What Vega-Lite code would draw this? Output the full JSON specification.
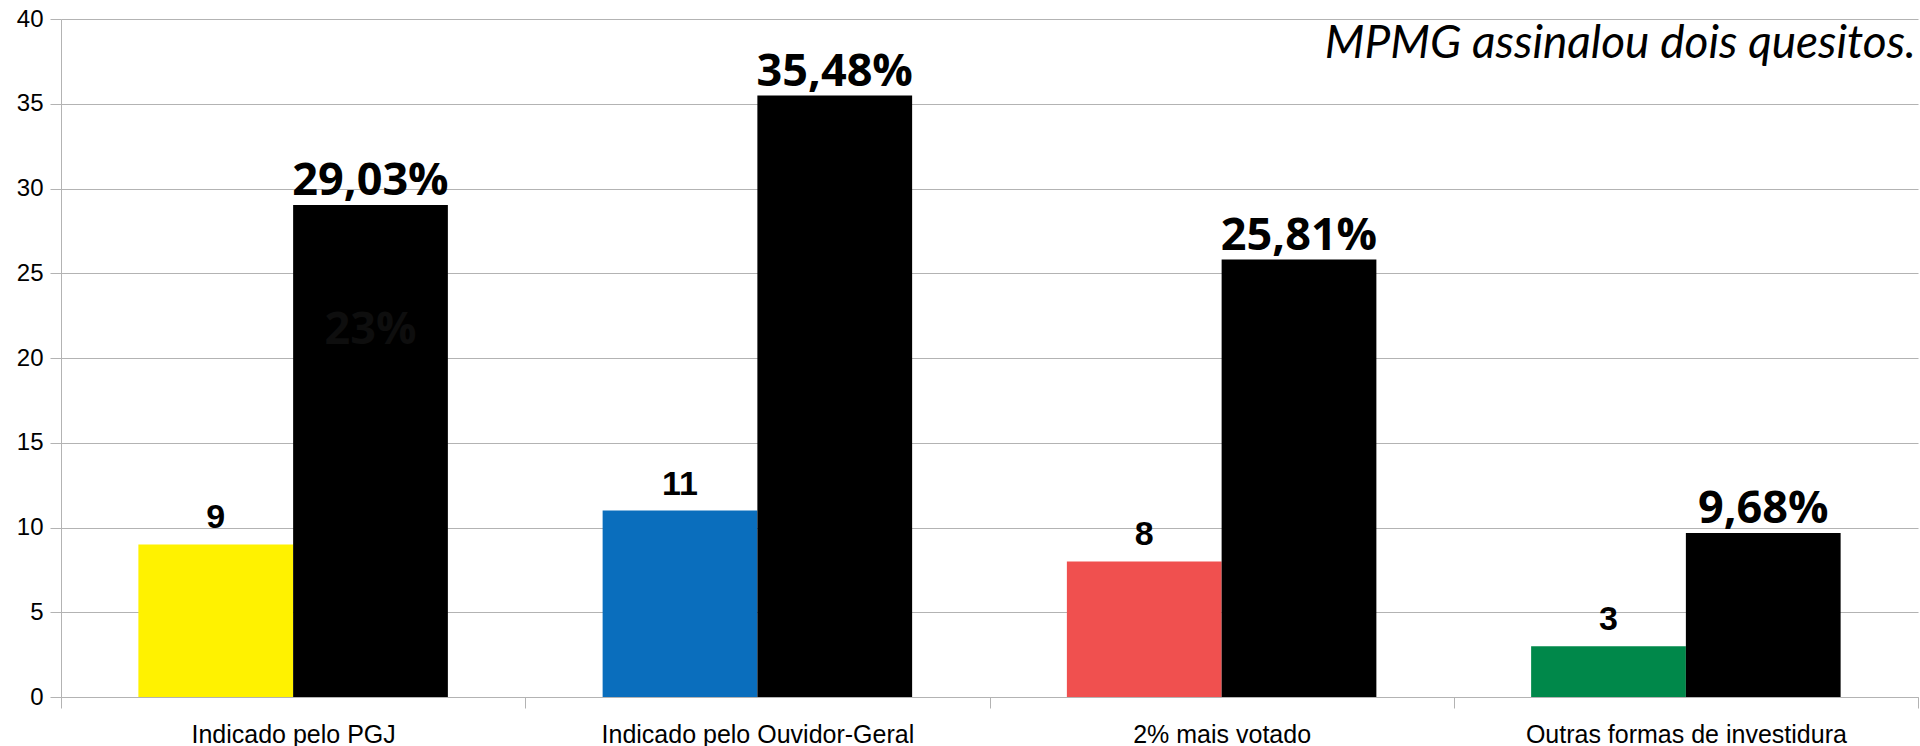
{
  "$schema": "https://vega.github.io/schema/vega-lite/v6.json",
  "autosize": {"type": "none"},
  "padding": {"left": 61, "top": 19, "right": 2, "bottom": 49},
  "width": 1857,
  "height": 678,
  "background": "#ffffff",
  "config": {
    "view": {"stroke": null},
    "font": "Liberation Sans"
  },
  "datasets": {
    "barras": [
      {"categoria": "Indicado pelo PGJ", "serie": "Quantidade", "grupo": "PGJ", "valor": 9, "rotulo": "9"},
      {"categoria": "Indicado pelo PGJ", "serie": "Percentual", "grupo": "Percentual", "valor": 29.03, "rotulo": "29,03%", "interno": "23%", "interno_y": 20.8},
      {"categoria": "Indicado pelo Ouvidor-Geral", "serie": "Quantidade", "grupo": "Ouvidor", "valor": 11, "rotulo": "11"},
      {"categoria": "Indicado pelo Ouvidor-Geral", "serie": "Percentual", "grupo": "Percentual", "valor": 35.48, "rotulo": "35,48%"},
      {"categoria": "2% mais votado", "serie": "Quantidade", "grupo": "Votado", "valor": 8, "rotulo": "8"},
      {"categoria": "2% mais votado", "serie": "Percentual", "grupo": "Percentual", "valor": 25.81, "rotulo": "25,81%"},
      {"categoria": "Outras formas de investidura", "serie": "Quantidade", "grupo": "Outras", "valor": 3, "rotulo": "3"},
      {"categoria": "Outras formas de investidura", "serie": "Percentual", "grupo": "Percentual", "valor": 9.68, "rotulo": "9,68%"}
    ],
    "nota": [
      {"categoria": "Outras formas de investidura", "y": 37.7, "texto": "MPMG assinalou dois quesitos."}
    ]
  },
  "data": {"name": "barras"},
  "layer": [
    {
      "mark": {"type": "bar", "cornerRadius": 0},
      "encoding": {
        "x": {
          "field": "categoria",
          "type": "nominal",
          "sort": ["Indicado pelo PGJ", "Indicado pelo Ouvidor-Geral", "2% mais votado", "Outras formas de investidura"],
          "scale": {"paddingInner": 0, "paddingOuter": 0},
          "axis": {
            "title": null,
            "labelAngle": 0,
            "labelLimit": 0,
            "labelFont": "Liberation Sans",
            "labelFontSize": 25,
            "labelColor": "#000000",
            "labelPadding": 14,
            "tickBand": "extent",
            "tickSize": 11,
            "tickColor": "#b3b3b3",
            "domainColor": "#b3b3b3",
            "grid": false
          }
        },
        "xOffset": {
          "field": "serie",
          "type": "nominal",
          "sort": ["Quantidade", "Percentual"],
          "scale": {"domain": ["Quantidade", "Percentual"], "paddingInner": 0, "paddingOuter": 0.5}
        },
        "y": {
          "field": "valor",
          "type": "quantitative",
          "scale": {"domain": [0, 40], "nice": false},
          "axis": {
            "title": null,
            "values": [0, 5, 10, 15, 20, 25, 30, 35, 40],
            "labelFont": "Liberation Sans",
            "labelFontSize": 24,
            "labelColor": "#000000",
            "labelPadding": 7,
            "tickSize": 11,
            "tickColor": "#b3b3b3",
            "domainColor": "#b3b3b3",
            "gridColor": "#b3b3b3",
            "gridWidth": 1
          }
        },
        "color": {
          "field": "grupo",
          "type": "nominal",
          "scale": {
            "domain": ["PGJ", "Ouvidor", "Votado", "Outras", "Percentual"],
            "range": ["#fff200", "#0a6ebd", "#f0504f", "#00884a", "#000000"]
          },
          "legend": null
        }
      }
    },
    {
      "transform": [{"filter": "datum.serie === 'Quantidade'"}],
      "mark": {"type": "text", "baseline": "alphabetic", "dy": -16, "font": "Liberation Sans", "fontWeight": "bold", "fontSize": 34, "color": "#000000"},
      "encoding": {
        "x": {"field": "categoria", "type": "nominal", "sort": ["Indicado pelo PGJ", "Indicado pelo Ouvidor-Geral", "2% mais votado", "Outras formas de investidura"]},
        "xOffset": {"field": "serie", "type": "nominal"},
        "y": {"field": "valor", "type": "quantitative"},
        "text": {"field": "rotulo"}
      }
    },
    {
      "transform": [{"filter": "datum.serie === 'Percentual'"}],
      "mark": {"type": "text", "baseline": "alphabetic", "dy": -10, "font": "Open Sans", "fontWeight": "bold", "fontSize": 45, "color": "#000000"},
      "encoding": {
        "x": {"field": "categoria", "type": "nominal", "sort": ["Indicado pelo PGJ", "Indicado pelo Ouvidor-Geral", "2% mais votado", "Outras formas de investidura"]},
        "xOffset": {"field": "serie", "type": "nominal"},
        "y": {"field": "valor", "type": "quantitative"},
        "text": {"field": "rotulo"}
      }
    },
    {
      "transform": [{"filter": "isValid(datum.interno)"}],
      "mark": {"type": "text", "baseline": "alphabetic", "font": "Open Sans", "fontWeight": "bold", "fontSize": 45, "color": "#0e0e0e"},
      "encoding": {
        "x": {"field": "categoria", "type": "nominal", "sort": ["Indicado pelo PGJ", "Indicado pelo Ouvidor-Geral", "2% mais votado", "Outras formas de investidura"]},
        "xOffset": {"field": "serie", "type": "nominal"},
        "y": {"field": "interno_y", "type": "quantitative"},
        "text": {"field": "interno"}
      }
    },
    {
      "data": {"name": "nota"},
      "mark": {"type": "text", "align": "right", "baseline": "alphabetic", "dx": 230, "font": "Lato", "fontStyle": "italic", "fontSize": 46, "color": "#000000"},
      "encoding": {
        "x": {"field": "categoria", "type": "nominal", "sort": ["Indicado pelo PGJ", "Indicado pelo Ouvidor-Geral", "2% mais votado", "Outras formas de investidura"]},
        "y": {"field": "y", "type": "quantitative"},
        "text": {"field": "texto"}
      }
    }
  ]
}
